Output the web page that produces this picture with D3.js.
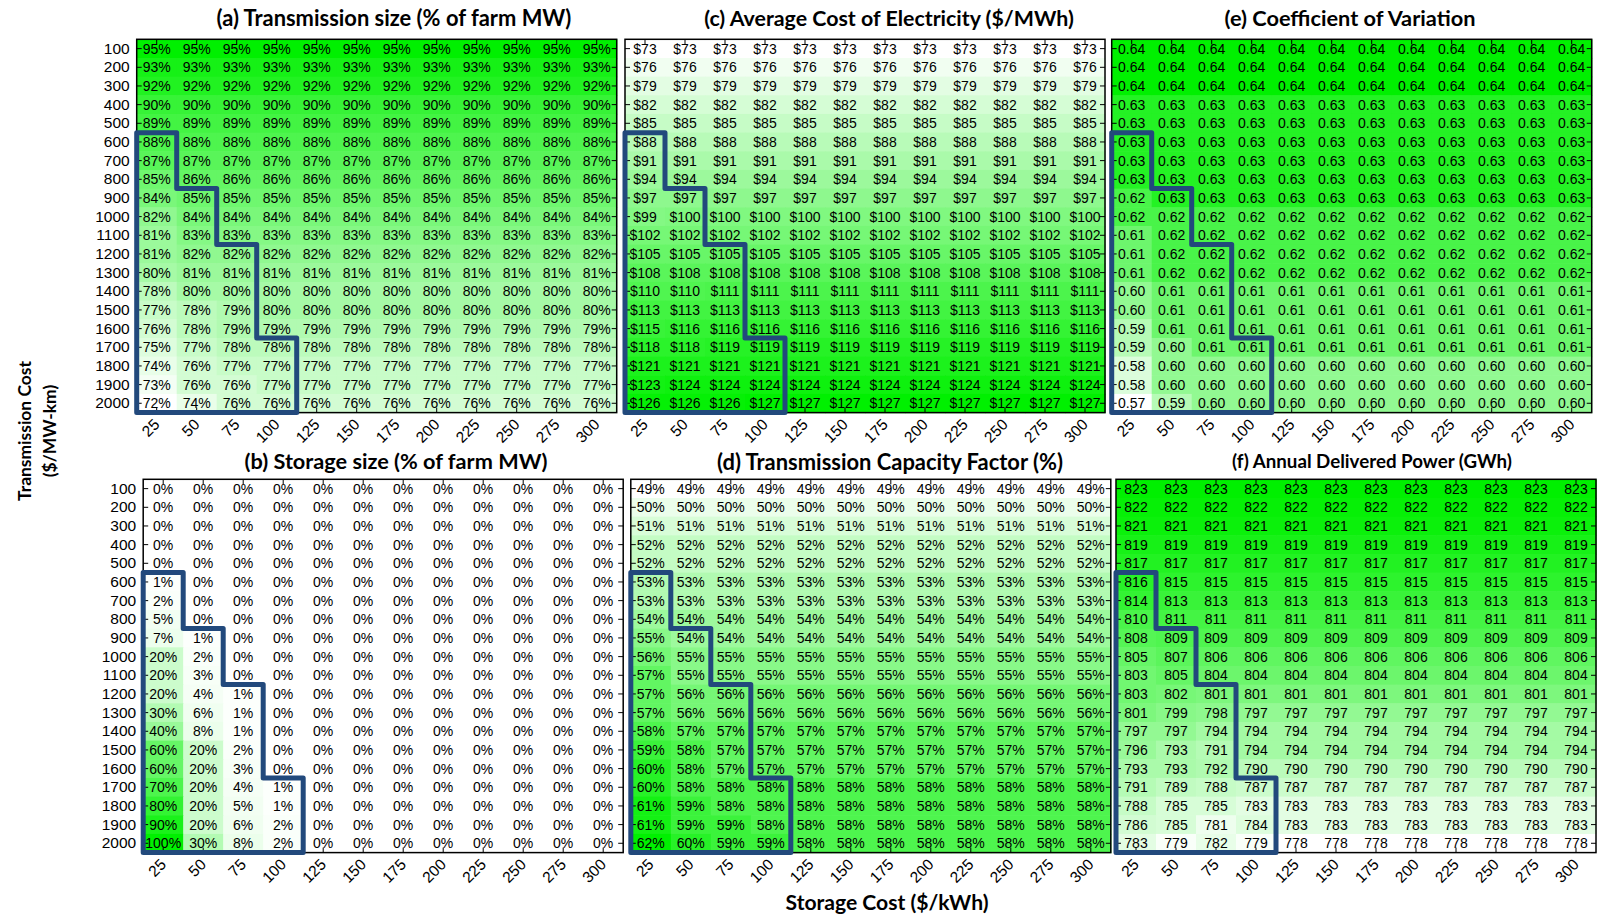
<!DOCTYPE html>
<html><head><meta charset="utf-8">
<script src="https://cdn.jsdelivr.net/npm/d3@7"></script>
<style>
body{margin:0;background:#fff}
text{fill:#000}
</style>
</head><body>
<svg id="chart" width="1600" height="914"></svg>
<script>
// ---------------- DATA ----------------
const storageCosts = [25, 50, 75, 100, 125, 150, 175, 200, 225, 250, 275, 300];
const transmissionCosts = [100, 200, 300, 400, 500, 600, 700, 800, 900, 1000,
  1100, 1200, 1300, 1400, 1500, 1600, 1700, 1800, 1900, 2000];

// (a) Transmission size (% of farm MW)
const transmissionSize = [
  [95,95,95,95,95,95,95,95,95,95,95,95],
  [93,93,93,93,93,93,93,93,93,93,93,93],
  [92,92,92,92,92,92,92,92,92,92,92,92],
  [90,90,90,90,90,90,90,90,90,90,90,90],
  [89,89,89,89,89,89,89,89,89,89,89,89],
  [88,88,88,88,88,88,88,88,88,88,88,88],
  [87,87,87,87,87,87,87,87,87,87,87,87],
  [85,86,86,86,86,86,86,86,86,86,86,86],
  [84,85,85,85,85,85,85,85,85,85,85,85],
  [82,84,84,84,84,84,84,84,84,84,84,84],
  [81,83,83,83,83,83,83,83,83,83,83,83],
  [81,82,82,82,82,82,82,82,82,82,82,82],
  [80,81,81,81,81,81,81,81,81,81,81,81],
  [78,80,80,80,80,80,80,80,80,80,80,80],
  [77,78,79,80,80,80,80,80,80,80,80,80],
  [76,78,79,79,79,79,79,79,79,79,79,79],
  [75,77,78,78,78,78,78,78,78,78,78,78],
  [74,76,77,77,77,77,77,77,77,77,77,77],
  [73,76,76,77,77,77,77,77,77,77,77,77],
  [72,74,76,76,76,76,76,76,76,76,76,76]
];

// (b) Storage size (% of farm MW)
const storageSize = [
  [0,0,0,0,0,0,0,0,0,0,0,0],
  [0,0,0,0,0,0,0,0,0,0,0,0],
  [0,0,0,0,0,0,0,0,0,0,0,0],
  [0,0,0,0,0,0,0,0,0,0,0,0],
  [0,0,0,0,0,0,0,0,0,0,0,0],
  [1,0,0,0,0,0,0,0,0,0,0,0],
  [2,0,0,0,0,0,0,0,0,0,0,0],
  [5,0,0,0,0,0,0,0,0,0,0,0],
  [7,1,0,0,0,0,0,0,0,0,0,0],
  [20,2,0,0,0,0,0,0,0,0,0,0],
  [20,3,0,0,0,0,0,0,0,0,0,0],
  [20,4,1,0,0,0,0,0,0,0,0,0],
  [30,6,1,0,0,0,0,0,0,0,0,0],
  [40,8,1,0,0,0,0,0,0,0,0,0],
  [60,20,2,0,0,0,0,0,0,0,0,0],
  [60,20,3,0,0,0,0,0,0,0,0,0],
  [70,20,4,1,0,0,0,0,0,0,0,0],
  [80,20,5,1,0,0,0,0,0,0,0,0],
  [90,20,6,2,0,0,0,0,0,0,0,0],
  [100,30,8,2,0,0,0,0,0,0,0,0]
];

// (c) Average Cost of Electricity ($/MWh)
const costOfElectricity = [
  [73,73,73,73,73,73,73,73,73,73,73,73],
  [76,76,76,76,76,76,76,76,76,76,76,76],
  [79,79,79,79,79,79,79,79,79,79,79,79],
  [82,82,82,82,82,82,82,82,82,82,82,82],
  [85,85,85,85,85,85,85,85,85,85,85,85],
  [88,88,88,88,88,88,88,88,88,88,88,88],
  [91,91,91,91,91,91,91,91,91,91,91,91],
  [94,94,94,94,94,94,94,94,94,94,94,94],
  [97,97,97,97,97,97,97,97,97,97,97,97],
  [99,100,100,100,100,100,100,100,100,100,100,100],
  [102,102,102,102,102,102,102,102,102,102,102,102],
  [105,105,105,105,105,105,105,105,105,105,105,105],
  [108,108,108,108,108,108,108,108,108,108,108,108],
  [110,110,111,111,111,111,111,111,111,111,111,111],
  [113,113,113,113,113,113,113,113,113,113,113,113],
  [115,116,116,116,116,116,116,116,116,116,116,116],
  [118,118,119,119,119,119,119,119,119,119,119,119],
  [121,121,121,121,121,121,121,121,121,121,121,121],
  [123,124,124,124,124,124,124,124,124,124,124,124],
  [126,126,126,127,127,127,127,127,127,127,127,127]
];

// (d) Transmission Capacity Factor (%)
const capacityFactor = [
  [49,49,49,49,49,49,49,49,49,49,49,49],
  [50,50,50,50,50,50,50,50,50,50,50,50],
  [51,51,51,51,51,51,51,51,51,51,51,51],
  [52,52,52,52,52,52,52,52,52,52,52,52],
  [52,52,52,52,52,52,52,52,52,52,52,52],
  [53,53,53,53,53,53,53,53,53,53,53,53],
  [53,53,53,53,53,53,53,53,53,53,53,53],
  [54,54,54,54,54,54,54,54,54,54,54,54],
  [55,54,54,54,54,54,54,54,54,54,54,54],
  [56,55,55,55,55,55,55,55,55,55,55,55],
  [57,55,55,55,55,55,55,55,55,55,55,55],
  [57,56,56,56,56,56,56,56,56,56,56,56],
  [57,56,56,56,56,56,56,56,56,56,56,56],
  [58,57,57,57,57,57,57,57,57,57,57,57],
  [59,58,57,57,57,57,57,57,57,57,57,57],
  [60,58,57,57,57,57,57,57,57,57,57,57],
  [60,58,58,58,58,58,58,58,58,58,58,58],
  [61,59,58,58,58,58,58,58,58,58,58,58],
  [61,59,59,58,58,58,58,58,58,58,58,58],
  [62,60,59,59,58,58,58,58,58,58,58,58]
];

// (e) Coefficient of Variation
const coefVariation = [
  [0.64,0.64,0.64,0.64,0.64,0.64,0.64,0.64,0.64,0.64,0.64,0.64],
  [0.64,0.64,0.64,0.64,0.64,0.64,0.64,0.64,0.64,0.64,0.64,0.64],
  [0.64,0.64,0.64,0.64,0.64,0.64,0.64,0.64,0.64,0.64,0.64,0.64],
  [0.63,0.63,0.63,0.63,0.63,0.63,0.63,0.63,0.63,0.63,0.63,0.63],
  [0.63,0.63,0.63,0.63,0.63,0.63,0.63,0.63,0.63,0.63,0.63,0.63],
  [0.63,0.63,0.63,0.63,0.63,0.63,0.63,0.63,0.63,0.63,0.63,0.63],
  [0.63,0.63,0.63,0.63,0.63,0.63,0.63,0.63,0.63,0.63,0.63,0.63],
  [0.63,0.63,0.63,0.63,0.63,0.63,0.63,0.63,0.63,0.63,0.63,0.63],
  [0.62,0.63,0.63,0.63,0.63,0.63,0.63,0.63,0.63,0.63,0.63,0.63],
  [0.62,0.62,0.62,0.62,0.62,0.62,0.62,0.62,0.62,0.62,0.62,0.62],
  [0.61,0.62,0.62,0.62,0.62,0.62,0.62,0.62,0.62,0.62,0.62,0.62],
  [0.61,0.62,0.62,0.62,0.62,0.62,0.62,0.62,0.62,0.62,0.62,0.62],
  [0.61,0.62,0.62,0.62,0.62,0.62,0.62,0.62,0.62,0.62,0.62,0.62],
  [0.60,0.61,0.61,0.61,0.61,0.61,0.61,0.61,0.61,0.61,0.61,0.61],
  [0.60,0.61,0.61,0.61,0.61,0.61,0.61,0.61,0.61,0.61,0.61,0.61],
  [0.59,0.61,0.61,0.61,0.61,0.61,0.61,0.61,0.61,0.61,0.61,0.61],
  [0.59,0.60,0.61,0.61,0.61,0.61,0.61,0.61,0.61,0.61,0.61,0.61],
  [0.58,0.60,0.60,0.60,0.60,0.60,0.60,0.60,0.60,0.60,0.60,0.60],
  [0.58,0.60,0.60,0.60,0.60,0.60,0.60,0.60,0.60,0.60,0.60,0.60],
  [0.57,0.59,0.60,0.60,0.60,0.60,0.60,0.60,0.60,0.60,0.60,0.60]
];

// (f) Annual Delivered Power (GWh)
const deliveredPower = [
  [823,823,823,823,823,823,823,823,823,823,823,823],
  [822,822,822,822,822,822,822,822,822,822,822,822],
  [821,821,821,821,821,821,821,821,821,821,821,821],
  [819,819,819,819,819,819,819,819,819,819,819,819],
  [817,817,817,817,817,817,817,817,817,817,817,817],
  [816,815,815,815,815,815,815,815,815,815,815,815],
  [814,813,813,813,813,813,813,813,813,813,813,813],
  [810,811,811,811,811,811,811,811,811,811,811,811],
  [808,809,809,809,809,809,809,809,809,809,809,809],
  [805,807,806,806,806,806,806,806,806,806,806,806],
  [803,805,804,804,804,804,804,804,804,804,804,804],
  [803,802,801,801,801,801,801,801,801,801,801,801],
  [801,799,798,797,797,797,797,797,797,797,797,797],
  [797,797,794,794,794,794,794,794,794,794,794,794],
  [796,793,791,794,794,794,794,794,794,794,794,794],
  [793,793,792,790,790,790,790,790,790,790,790,790],
  [791,789,788,787,787,787,787,787,787,787,787,787],
  [788,785,785,783,783,783,783,783,783,783,783,783],
  [786,785,781,784,783,783,783,783,783,783,783,783],
  [783,779,782,779,778,778,778,778,778,778,778,778]
];

// Region outline: for each storage cost, the first transmission cost inside the outlined region
const outlineStorage = [25, 50, 75, 100];
const outlineStartTransmission = [600, 900, 1200, 1700];

const panelTitles = [
  "(a) Transmission size (% of farm MW)",
  "(b) Storage size (% of farm MW)",
  "(c) Average Cost of Electricity ($/MWh)",
  "(d) Transmission Capacity Factor (%)",
  "(e) Coefficient of Variation",
  "(f) Annual Delivered Power (GWh)"
];
const yAxisTitle = ["Transmission Cost", "($/MW-km)"];
const xAxisTitle = "Storage Cost ($/kWh)";

// ---------------- LAYOUT ----------------
const W = 480, H = 373.3;
const GREEN = "#00f000";
const panels = [
  {data: transmissionSize, fmt: d => d + "%", x: 136.7, y: 39.3, yLabels: true,  tx: 394, ty: 17.5, tw: 355},
  {data: storageSize,      fmt: d => d + "%", x: 143.2, y: 479.3, yLabels: true, tx: 396, ty: 461, tw: 303},
  {data: costOfElectricity,fmt: d => "$" + d, x: 625,   y: 39.3, yLabels: false, tx: 889, ty: 17.5, tw: 370},
  {data: capacityFactor,   fmt: d => d + "%", x: 630.8, y: 479.3, yLabels: false, tx: 890, ty: 461, tw: 346},
  {data: coefVariation,    fmt: d3.format(".2f"), x: 1111.7, y: 39.3, yLabels: false, tx: 1350, ty: 17.5, tw: 251},
  {data: deliveredPower,   fmt: d => String(d), x: 1116, y: 479.3, yLabels: false, tx: 1372, ty: 461, tw: 280}
];

const svg = d3.select("#chart");
const NUMFONT = "'Liberation Sans', Arial, sans-serif";
const TITLEFONT = "Lato, 'Open Sans', sans-serif";

function fitWidth(sel, target) {
  sel.attr("font-size", 20);
  const len = sel.node().getComputedTextLength();
  sel.attr("font-size", 20 * target / len);
}

panels.forEach((p, i) => {
  const g = svg.append("g").attr("transform", `translate(${p.x},${p.y})`);
  const x = d3.scaleBand().domain(storageCosts).range([0, W]);
  const y = d3.scaleBand().domain(transmissionCosts).range([0, H]);
  const flat = p.data.flat();
  const color = d3.scaleLinear().domain(d3.extent(flat)).range(["#ffffff", GREEN]).interpolate(d3.interpolateRgb);

  const cells = [];
  transmissionCosts.forEach((t, r) => storageCosts.forEach((s, c) => cells.push({t, s, v: p.data[r][c]})));

  g.selectAll("rect.cell").data(cells).join("rect")
    .attr("class", "cell")
    .attr("x", d => x(d.s)).attr("y", d => y(d.t))
    .attr("width", x.bandwidth() + 0.6).attr("height", y.bandwidth() + 0.6)
    .attr("fill", d => color(d.v));

  g.selectAll("text.val").data(cells).join("text")
    .attr("class", "val")
    .attr("x", d => x(d.s) + x.bandwidth() / 2)
    .attr("y", d => y(d.t) + y.bandwidth() / 2)
    .attr("text-anchor", "middle").attr("dominant-baseline", "central")
    .attr("font-family", NUMFONT).attr("font-size", 14)
    .text(d => p.fmt(d.v));

  // axes with inward ticks
  const left = d3.axisLeft(y).tickSizeInner(-5).tickSizeOuter(0).tickPadding(7)
    .tickFormat(p.yLabels ? (d => d) : (() => ""));
  const gl = g.append("g").call(left);
  gl.select(".domain").remove();
  gl.selectAll("text").attr("font-family", NUMFONT).attr("font-size", 15.5).attr("fill", "#000");

  const gr = g.append("g").attr("transform", `translate(${W},0)`)
    .call(d3.axisRight(y).tickSizeInner(-5).tickSizeOuter(0).tickFormat(() => ""));
  gr.select(".domain").remove();

  const gt = g.append("g").call(d3.axisTop(x).tickSizeInner(-5).tickSizeOuter(0).tickFormat(() => ""));
  gt.select(".domain").remove();

  const gb = g.append("g").attr("transform", `translate(0,${H})`)
    .call(d3.axisBottom(x).tickSizeInner(-5).tickSizeOuter(0));
  gb.select(".domain").remove();
  gb.selectAll("text")
    .attr("font-family", NUMFONT).attr("font-size", 15.5).attr("fill", "#000")
    .attr("text-anchor", "end")
    .attr("x", 0).attr("y", 0).attr("dy", "0.35em")
    .attr("transform", "translate(0,9) rotate(-45)");

  g.selectAll("line").attr("stroke", "#000").attr("stroke-width", 1);

  // frame
  g.append("rect").attr("x", 0).attr("y", 0).attr("width", W).attr("height", H)
    .attr("fill", "none").attr("stroke", "#000").attr("stroke-width", 1.5);

  // outlined region
  const pts = [[x(outlineStorage[0]), y(outlineStartTransmission[0])]];
  outlineStorage.forEach((s, k) => {
    const xr = x(s) + x.bandwidth();
    pts.push([xr, y(outlineStartTransmission[k])]);
    const next = k + 1 < outlineStorage.length ? y(outlineStartTransmission[k + 1]) : H;
    pts.push([xr, next]);
  });
  pts.push([x(outlineStorage[0]), H]);
  g.append("path").attr("d", d3.line()(pts) + "Z")
    .attr("fill", "none").attr("stroke", "#22497c").attr("stroke-width", 5)
    .attr("stroke-linejoin", "round");

  // title
  const tt = svg.append("text").attr("x", p.tx).attr("y", p.ty)
    .attr("text-anchor", "middle").attr("dominant-baseline", "central")
    .attr("font-family", TITLEFONT).attr("font-weight", 700)
    .text(panelTitles[i]);
  fitWidth(tt, p.tw);
});

// y axis title
const yt = svg.append("text").attr("transform", "translate(24,431) rotate(-90)")
  .attr("text-anchor", "middle").attr("dominant-baseline", "central")
  .attr("font-family", TITLEFONT).attr("font-weight", 700).text(yAxisTitle[0]);
fitWidth(yt, 140);
const yt2 = svg.append("text").attr("transform", "translate(49,431) rotate(-90)")
  .attr("text-anchor", "middle").attr("dominant-baseline", "central")
  .attr("font-family", TITLEFONT).attr("font-weight", 700).text(yAxisTitle[1]);
yt2.attr("font-size", yt.attr("font-size"));

// x axis title
const xt = svg.append("text").attr("x", 887).attr("y", 901)
  .attr("text-anchor", "middle").attr("dominant-baseline", "central")
  .attr("font-family", TITLEFONT).attr("font-weight", 700).text(xAxisTitle);
fitWidth(xt, 203);
</script>
</body></html>
